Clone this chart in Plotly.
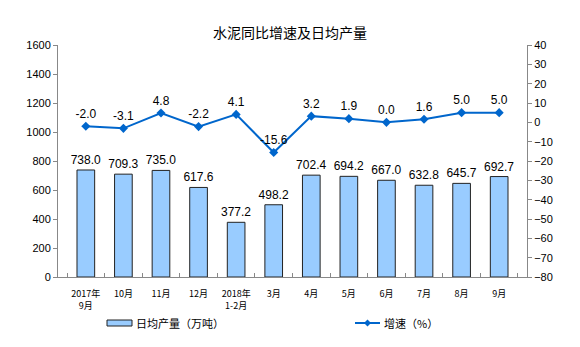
import plotly.graph_objects as go

categories = ["2017年<br>9月", "10月", "11月", "12月", "2018年<br>1-2月", "3月",
              "4月", "5月", "6月", "7月", "8月", "9月"]
daily_output = [738.0, 709.3, 735.0, 617.6, 377.2, 498.2, 702.4, 694.2, 667.0, 632.8, 645.7, 692.7]
growth = [-2.0, -3.1, 4.8, -2.2, 4.1, -15.6, 3.2, 1.9, 0.0, 1.6, 5.0, 5.0]

left_ticks = list(range(0, 1601, 200))
right_ticks = list(range(-80, 41, 10))

BAR_COLOR = "#99CCFF"
LINE_COLOR = "#0066CC"

fig = go.Figure()
fig.add_trace(go.Bar(
    x=categories, y=daily_output, name="日均产量（万吨）",
    marker=dict(color=BAR_COLOR, line=dict(color="#222222", width=1)),
    width=0.47,
    text=[f"{v:.1f}" for v in daily_output], textposition="outside",
    constraintext="none",
    textfont=dict(family="Liberation Sans, Arial", size=12, color="#000000"),
    cliponaxis=False,
))
fig.add_trace(go.Scatter(
    x=categories, y=growth, name="增速（%）", yaxis="y2",
    mode="lines+markers+text",
    line=dict(color=LINE_COLOR, width=2),
    marker=dict(symbol="diamond", size=7, color=LINE_COLOR),
    text=[f"{v:.1f}" for v in growth], textposition="top center",
    textfont=dict(family="Liberation Sans, Arial", size=12, color="#000000"),
    cliponaxis=False,
))

axis_font = dict(family="Liberation Sans, Arial", size=11, color="#000000")
legend_font = dict(family="Noto Sans CJK SC", size=11, color="#000000")

shapes = [
    # legend key for bars
    dict(type="rect", xref="paper", yref="paper", x0=(107 - 58) / 469, x1=(132 - 58) / 469,
         y0=-(320 - 277) / 232, y1=-(326 - 277) / 232,
         fillcolor=BAR_COLOR, line=dict(color="#222222", width=1)),
    # legend key for line
    dict(type="line", xref="paper", yref="paper", x0=(355 - 58) / 469, x1=(380 - 58) / 469,
         y0=-(323 - 277) / 232, y1=-(323 - 277) / 232,
         line=dict(color=LINE_COLOR, width=2)),
    dict(type="path", xref="paper", yref="paper",
         path="M {0},{1} L {2},{3} L {0},{4} L {5},{3} Z".format(
             (367.5 - 58) / 469, -(319.5 - 277) / 232, (371 - 58) / 469, -(323 - 277) / 232,
             -(326.5 - 277) / 232, (364 - 58) / 469),
         fillcolor=LINE_COLOR, line=dict(color=LINE_COLOR, width=0)),
]
annotations = [
    dict(text="日均产量（万吨）", xref="paper", yref="paper", x=(134 - 58) / 469,
         y=-(323 - 277) / 232, xanchor="left", yanchor="middle", showarrow=False, font=legend_font),
    dict(text="增速（%）", xref="paper", yref="paper", x=(382 - 58) / 469,
         y=-(323 - 277) / 232, xanchor="left", yanchor="middle", showarrow=False, font=legend_font),
]

fig.update_layout(
    width=580, height=347,
    margin=dict(l=58, r=53, t=45, b=70, autoexpand=False),
    plot_bgcolor="white", paper_bgcolor="white",
    title=dict(text="水泥同比增速及日均产量", x=0.5, xanchor="center", y=0.905, yanchor="middle",
               font=dict(family="Noto Sans CJK SC", size=14, color="#000000")),
    xaxis=dict(showline=True, linecolor="#888888", ticks="inside", tickson="boundaries",
               tickcolor="#888888", ticklen=4, showgrid=False, automargin=False,
               ticklabelstandoff=8, tickangle=0,
               tickfont=dict(family="Noto Sans CJK SC", size=9, color="#000000")),
    yaxis=dict(range=[0, 1600], tickvals=left_ticks, showline=True, linecolor="#888888",
               ticks="outside", tickcolor="#888888", ticklen=4, showgrid=False,
               zeroline=False, tickfont=axis_font, automargin=False),
    yaxis2=dict(range=[-80, 40], tickvals=right_ticks, overlaying="y", side="right",
                showline=True, linecolor="#888888", ticks="outside", tickcolor="#888888",
                ticklen=4, showgrid=False, zeroline=False, tickfont=axis_font, automargin=False),
    showlegend=False,
    shapes=shapes,
    annotations=annotations,
)
fig.write_html("out.html")
